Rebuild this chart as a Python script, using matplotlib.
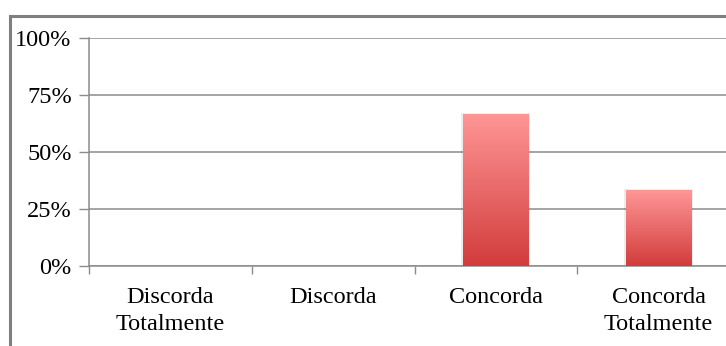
import matplotlib
matplotlib.use("Agg")
import matplotlib.pyplot as plt
import numpy as np
from matplotlib.patches import Rectangle
from matplotlib.colors import LinearSegmentedColormap
from matplotlib.ticker import FixedLocator

categories = ["Discorda\nTotalmente", "Discorda", "Concorda", "Concorda\nTotalmente"]
values = [0.0, 0.0, 0.667, 0.333]
yticks = [0, 0.25, 0.5, 0.75, 1.0]
ytick_labels = ["0%", "25%", "50%", "75%", "100%"]

W, H = 726, 346
fig = plt.figure(figsize=(W / 100, H / 100), dpi=100)
plt.rcParams['font.family'] = ['Liberation Serif', 'DejaVu Serif']

ax_left = 89 / W
ax_right = 740 / W
ax_bottom = 1 - 266 / H
ax_top = 1 - 38 / H
ax = fig.add_axes([ax_left, ax_bottom, ax_right - ax_left, ax_top - ax_bottom])

x = np.arange(len(categories))
bars = ax.bar(x, values, width=0.4, color='none', edgecolor='none', zorder=3)

cmap = LinearSegmentedColormap.from_list("g", [(210/255, 60/255, 60/255), (255/255, 150/255, 150/255)])
grad = np.linspace(0, 1, 256).reshape(-1, 1)
for b in bars:
    h = b.get_height()
    if h <= 0:
        continue
    x0 = b.get_x()
    w = b.get_width()
    ax.add_patch(Rectangle((x0 - 0.012, 0), w + 0.024, h + 0.006, facecolor=(0, 0, 0, 0.07),
                           edgecolor='none', zorder=2))
    im = ax.imshow(grad, cmap=cmap, aspect='auto', extent=(x0, x0 + w, 0, h),
                   origin='lower', zorder=3)
    im.set_clip_path(b)

ax.set_xlim(-0.5, 3.5)
ax.set_ylim(0, 1)
ax.set_yticks(yticks)
ax.set_yticklabels(ytick_labels, fontsize=17.5)
ax.set_xticks(x)
ax.set_xticklabels(categories, fontsize=17.5)
for t in ax.get_xticklabels():
    t.set_linespacing(1.4)
ax.xaxis.set_minor_locator(FixedLocator([-0.5, 0.5, 1.5, 2.5, 3.5]))
ax.tick_params(axis='x', which='major', length=0, pad=15)
ax.tick_params(axis='x', which='minor', length=6, color='#8c8c8c', width=1)
ax.tick_params(axis='y', length=7, color='#8c8c8c', width=1, pad=5.5)
ax.yaxis.grid(True, color='#8c8c8c', linewidth=1.1, zorder=0)
ax.set_axisbelow(True)
for s in ['top', 'right']:
    ax.spines[s].set_visible(False)
for s in ['left', 'bottom']:
    ax.spines[s].set_color('#8c8c8c')
    ax.spines[s].set_linewidth(1.1)

frame = Rectangle((9.5 / W, -0.2), 1.2, 1 - 15.5 / H + 0.2,
                  transform=fig.transFigure, fill=False,
                  edgecolor='#7f7f7f', linewidth=2.2, zorder=10)
fig.patches.append(frame)

fig.savefig("out.png", dpi=100)
